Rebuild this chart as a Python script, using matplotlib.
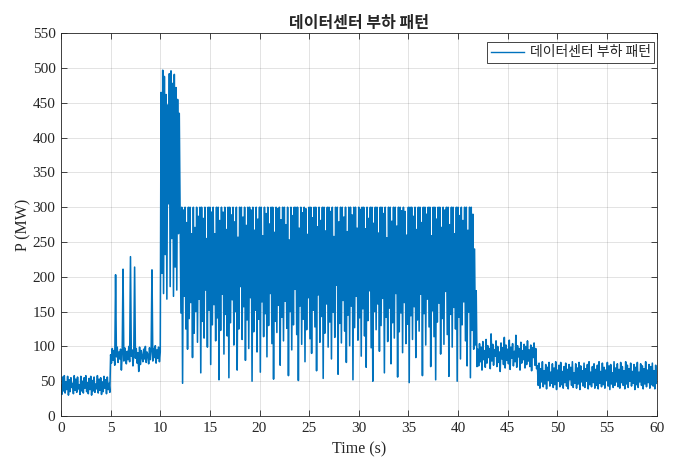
import numpy as np
import matplotlib
matplotlib.use("Agg")
import matplotlib.pyplot as plt

# ---------------- data ----------------
seg_bounds = [0, 5, 10, 12, 42, 48, 60]

seg_A = [44, 31, 56, 36, 58, 33, 49, 38, 57, 30, 52, 35, 55, 41, 47, 32, 58, 37, 53, 34,
         56, 39, 45, 31, 57, 36, 50, 33, 55, 40, 58, 35, 48, 32, 54, 38, 57, 30, 51, 36,
         56, 34, 46, 39, 58, 33, 53, 37, 55, 31, 49, 35, 57, 40, 52, 32, 56, 38, 47, 34]

seg_B = [88, 76, 97, 80, 94, 73, 203, 85, 99, 77, 92, 82, 96, 66, 89, 211, 79, 98, 84, 75,
         93, 81, 100, 78, 229, 86, 95, 72, 90, 214, 83, 97, 76, 91, 64, 99, 74, 94, 85, 78,
         96, 82, 100, 77, 92, 88, 75, 98, 81, 93, 210, 79, 97, 84, 101, 76, 95, 83, 99, 78]

seg_C = [92, 465, 205, 497, 176, 488, 232, 462, 168, 447, 305, 492,
         186, 496, 255, 478, 172, 491, 214, 472, 181, 455, 262, 435]

seg_D = [300, 148, 300, 47, 296, 172, 300, 125, 278, 96, 300, 140, 300, 163, 262, 84, 300, 119, 271, 150,
         300, 106, 287, 168, 300, 62, 300, 136, 284, 112, 300, 181, 255, 99, 300, 152, 300, 74, 293, 131,
         300, 160, 262, 108, 300, 141, 300, 52, 281, 123, 300, 175, 293, 89, 300, 146, 268, 115, 300, 55,
         300, 134, 289, 167, 300, 102, 279, 150, 300, 66, 257, 125, 300, 186, 300, 110, 286, 157, 300, 80,
         274, 138, 300, 97, 300, 170, 296, 50, 300, 121, 267, 152, 300, 92, 283, 139, 300, 63, 300, 164,
         259, 114, 300, 147, 291, 85, 300, 130, 276, 176, 300, 104, 300, 53, 264, 136, 300, 120, 298, 159,
         300, 73, 282, 142, 300, 108, 300, 165, 275, 126, 300, 58, 253, 150, 300, 95, 288, 131, 300, 182,
         300, 117, 300, 51, 270, 158, 300, 103, 292, 139, 300, 78, 298, 124, 261, 170, 300, 111, 300, 90,
         285, 152, 300, 128, 300, 65, 272, 174, 300, 106, 281, 143, 300, 54, 300, 119, 266, 161, 300, 99,
         300, 135, 294, 82, 300, 149, 258, 113, 300, 188, 300, 60, 279, 133, 300, 105, 300, 166, 286, 122,
         300, 77, 265, 145, 300, 101, 300, 158, 289, 52, 300, 127, 300, 172, 270, 109, 300, 141, 297, 86,
         300, 154, 300, 115, 269, 70, 300, 137, 284, 180, 300, 98, 300, 50, 277, 150, 300, 124, 300, 161,
         263, 93, 300, 130, 300, 169, 291, 62, 300, 142, 256, 107, 300, 155, 300, 75, 280, 134, 300, 112,
         300, 176, 273, 56, 300, 121, 300, 148, 295, 91, 300, 163, 294, 104, 260, 132, 300, 48, 300, 144,
         300, 110, 287, 157, 300, 84, 268, 138, 300, 122, 300, 175, 278, 58, 300, 147, 300, 102, 290, 168,
         300, 128, 300, 71, 259, 151, 300, 114, 300, 52, 283, 135, 300, 162, 300, 89, 271, 140, 300, 103,
         296, 179, 300, 117, 300, 57, 275, 146, 300, 99, 300, 156, 262, 125, 300, 50, 300, 142, 288, 82,
         300, 131, 281, 164, 300, 108, 300, 72, 267, 149, 300, 55, 300, 123, 290, 96, 240, 102, 180, 71]

seg_E = [96, 72, 104, 78, 99, 66, 107, 81, 94, 70, 110, 76, 101, 84, 97, 68, 118, 79, 103, 73,
         95, 86, 108, 71, 100, 77, 92, 64, 105, 82, 98, 74, 113, 69, 102, 80, 96, 75, 109, 67,
         99, 83, 104, 72, 93, 78, 116, 70, 101, 85, 97, 66, 106, 76, 94, 81, 103, 69, 100, 74,
         108, 79, 95, 71, 102, 65, 98, 84, 105, 73, 97, 68]

seg_F = [72, 44, 76, 40, 68, 49, 78, 42, 65, 46, 74, 39, 70, 51, 77, 43, 63, 47, 75, 41, 69, 45, 78, 38,
         66, 50, 73, 42, 77, 45, 64, 40, 71, 48, 76, 43, 67, 39, 74, 52, 70, 44, 78, 41, 62, 47, 75, 40,
         69, 46, 77, 38, 72, 49, 65, 43, 76, 41, 68, 50, 74, 39, 78, 45, 63, 42, 71, 48, 75, 40, 67, 44,
         73, 39, 78, 47, 64, 42, 76, 45, 70, 40, 66, 51, 77, 43, 72, 38, 74, 46, 62, 41, 78, 44, 69, 49,
         75, 42, 67, 40, 77, 48, 71, 44, 65, 39, 78, 46, 73, 41, 68, 50, 76, 43, 64, 47, 74, 38, 70, 45,
         77, 41, 63, 49, 75, 44, 72, 39, 68, 46, 78, 42, 66, 48, 74, 40, 71, 45, 76, 43, 65, 39, 73, 47]

segments = [seg_A, seg_B, seg_C, seg_D, seg_E, seg_F]

x_ticks = list(range(0, 61, 5))
y_ticks = list(range(0, 551, 50))

title_text = "데이터센터 부하 패턴"
legend_text = "데이터센터 부하 패턴"
x_label = "Time (s)"
y_label = "P (MW)"

# ---------------- build series ----------------
t_parts, p_parts = [], []
for i, seg in enumerate(segments):
    last = (i == len(segments) - 1)
    t_parts.append(np.linspace(seg_bounds[i], seg_bounds[i + 1], len(seg), endpoint=last))
    p_parts.append(np.asarray(seg, dtype=float))
t = np.concatenate(t_parts)
p = np.concatenate(p_parts)

# ---------------- plot ----------------
ink = "#262626"
kfont = ["Noto Sans CJK KR", "DejaVu Sans"]
sfont = ["Liberation Serif", "DejaVu Serif"]

fig = plt.figure(figsize=(6.79, 4.71), dpi=100)
ax = fig.add_axes([61 / 679, 1 - 416 / 471, (656.5 - 61) / 679, (416 - 33.3) / 471])

line, = ax.plot(t, p, color="#0072BD", linewidth=1.15, label=legend_text)

ax.set_xlim(0, 60)
ax.set_ylim(0, 550)
ax.set_xticks(x_ticks)
ax.set_yticks(y_ticks)
ax.grid(True, color=ink, alpha=0.15, linewidth=0.6)
ax.set_axisbelow(True)

for s in ax.spines.values():
    s.set_color(ink)
    s.set_linewidth(0.6)

ax.tick_params(direction="in", top=True, right=True, length=4, width=0.6,
               color=ink, labelcolor=ink, labelsize=11, pad=4)
for lab in ax.get_xticklabels() + ax.get_yticklabels():
    lab.set_family(sfont)

ax.set_xlabel(x_label, family=sfont, fontsize=11.5, color=ink, labelpad=5)
ax.set_ylabel(y_label, family=sfont, fontsize=11.5, color=ink, labelpad=1)
ax.set_title(title_text, family=kfont, fontsize=11.5, fontweight="bold", color=ink, pad=4)

leg = ax.legend(loc="upper right", bbox_to_anchor=(654 / 679, 1 - 42 / 471),
                bbox_transform=fig.transFigure, borderaxespad=0,
                prop={"family": kfont, "size": 10}, fancybox=False,
                edgecolor=ink, framealpha=1, handlelength=2.4,
                handletextpad=0.4, borderpad=0.25)
leg.get_frame().set_linewidth(0.6)
for txt in leg.get_texts():
    txt.set_color(ink)
for h in leg.get_lines():
    h.set_linewidth(1.0)

fig.savefig("out.png", dpi=100)
